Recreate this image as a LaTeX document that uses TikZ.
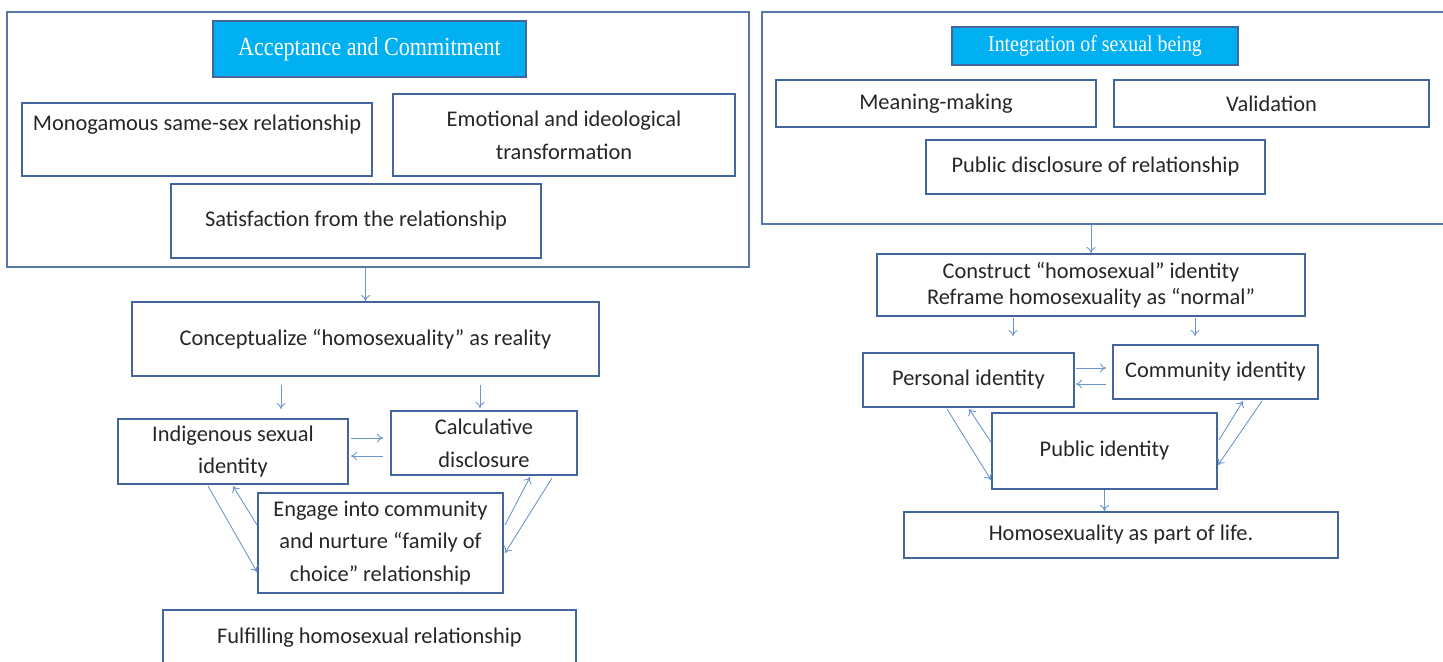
\documentclass[tikz,border=0pt]{standalone}
\usepackage{fontspec}
\setmainfont{Carlito}
\newfontfamily\titlefont[FakeStretch=0.85]{Liberation Serif}
\newfontfamily\titlefontb[FakeStretch=0.88]{Liberation Serif}
\usetikzlibrary{arrows.meta,calc}
\definecolor{boxblue}{HTML}{41659C}
\definecolor{outerblue}{HTML}{5777A8}
\definecolor{arrblue}{HTML}{6E96CA}
\definecolor{titlefill}{HTML}{00B0F0}
\tikzset{
  box/.style={draw=boxblue, line width=1pt, rectangle, inner sep=0pt, align=center,
    font=\fontsize{11.2}{16.3}\selectfont, text=black!85},
  outerbox/.style={draw=outerblue, line width=0.8pt, rectangle, inner sep=0pt},
  titlebox/.style={draw=boxblue, line width=1pt, fill=titlefill, rectangle, inner sep=0pt,
    text=white, align=center},
  arr/.style={draw=arrblue, line width=0.45pt, -{To[length=3pt,width=4.5pt]}}
}
\begin{document}
\begin{tikzpicture}[x=0.5pt,y=-0.5pt]
\useasboundingbox (0,0) rectangle (1443,661);
\clip (0,0) rectangle (1443,661);
% ---------- left part ----------
\node[outerbox, minimum width=371pt, minimum height=127.5pt] (louter) at (378,139.5) {};
\node[titlebox, minimum width=156.5pt, minimum height=28pt, font=\titlefont\fontsize{13}{15}\selectfont] (ltitle) at (369.5,49) {Acceptance and Commitment};
\node[box, minimum width=175pt, minimum height=36.5pt, text height=8pt, text depth=17pt] (mono) at (197,139.5) {Monogamous same-sex relationship};
\node[box, minimum width=171pt, minimum height=41pt] (emot) at (564,135) {Emotional and ideological\\transformation};
\node[box, minimum width=185pt, minimum height=37pt] (satis) at (356,221) {Satisfaction from the relationship};
\node[box, minimum width=233.5pt, minimum height=37pt] (concept) at (365.5,339) {Conceptualize \textquotedblleft homosexuality\textquotedblright{} as reality};
\node[box, minimum width=115pt, minimum height=32.5pt] (indig) at (233,451.5) {Indigenous sexual\\identity};
\node[box, minimum width=93pt, minimum height=32pt] (calc) at (484,443) {Calculative\\disclosure};
\node[box, minimum width=122.5pt, minimum height=50pt] (engage) at (380.5,543) {Engage into community\\and nurture \textquotedblleft family of\\choice\textquotedblright{} relationship};
\node[box, minimum width=206.5pt, minimum height=28pt] (fulfil) at (369.5,638) {Fulfilling homosexual relationship};
\draw[arr] (concept.north |- louter.south) -- (concept.north);
\draw[arr] ($(concept.south)+(-84.5,8)$) -- ($(indig.north)+(48,-9)$);
\draw[arr] ($(concept.south)+(114.5,8)$) -- ($(calc.north)+(-4,-2)$);
\draw[arr] ($(indig.east)+(2,-13.5)$) -- ($(calc.west)+(-7,-5)$);
\draw[arr] ($(calc.west)+(-7,13)$) -- ($(indig.east)+(2,4.5)$);
\draw[arr] ($(indig.south)+(-25,1)$) -- ($(engage.west)+(0,29)$);
\draw[arr] ($(engage.west)+(0,-18)$) -- ($(indig.south)+(0,1)$);
\draw[arr] ($(engage.east)+(1,-18)$) -- ($(calc.south)+(46,1)$);
\draw[arr] ($(calc.south)+(68,2)$) -- ($(engage.east)+(1,10)$);
% ---------- right part ----------
\node[outerbox, minimum width=342pt, minimum height=106pt] (router) at (1104,118) {};
\node[titlebox, minimum width=143pt, minimum height=19pt, font=\titlefontb\fontsize{11.3}{13}\selectfont] (rtitle) at (1095,46) {Integration of sexual being};
\node[box, minimum width=160pt, minimum height=23.5pt] (meaning) at (936,103.5) {Meaning-making};
\node[box, minimum width=157.5pt, minimum height=23.5pt] (valid) at (1271.5,103.5) {Validation};
\node[box, minimum width=169.5pt, minimum height=27pt] (pubdisc) at (1095.5,167) {Public disclosure of relationship};
\node[box, minimum width=214pt, minimum height=31pt, font=\fontsize{11.2}{13}\selectfont] (construct) at (1091,285) {Construct \textquotedblleft homosexual\textquotedblright{} identity\\Reframe homosexuality as \textquotedblleft normal\textquotedblright};
\node[box, minimum width=105.5pt, minimum height=27pt] (personal) at (968.5,380) {Personal identity};
\node[box, minimum width=102.5pt, minimum height=27pt] (community) at (1215.5,372) {Community identity};
\node[box, minimum width=112.5pt, minimum height=38pt] (public) at (1104.5,451) {Public identity};
\node[box, minimum width=217pt, minimum height=23pt] (homo) at (1121,535) {Homosexuality as part of life.};
\draw[arr] (construct.north |- router.south) -- (construct.north);
\draw[arr] ($(construct.south)+(-78,1)$) -- ($(personal.north)+(44.5,-16)$);
\draw[arr] ($(construct.south)+(104,1)$) -- ($(community.north)+(-20.5,-8)$);
\draw[arr] ($(personal.east)+(1,-12)$) -- ($(community.west)+(-6,-4)$);
\draw[arr] ($(community.west)+(-6,12)$) -- ($(personal.east)+(1,4)$);
\draw[arr] ($(personal.south)+(-21.5,1)$) -- ($(public.west)+(0,29)$);
\draw[arr] ($(public.west)+(0,-9)$) -- ($(personal.south)+(0.5,1)$);
\draw[arr] ($(public.east)+(1,-11)$) -- ($(community.south)+(27.5,1)$);
\draw[arr] ($(community.south)+(46.5,1)$) -- ($(public.east)+(0,14)$);
\draw[arr] (public.south) -- (public.south |- homo.north);
\end{tikzpicture}
\end{document}
